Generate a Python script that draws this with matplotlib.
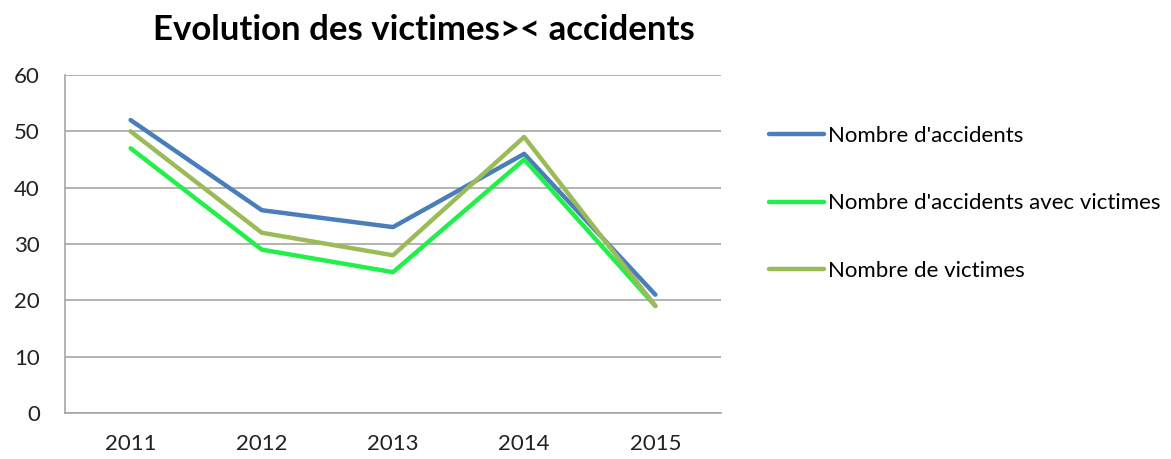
import matplotlib.pyplot as plt

years = ['2011', '2012', '2013', '2014', '2015']
accidents = [52, 36, 33, 46, 21]
accidents_victimes = [47, 29, 25, 45, 19]
victimes = [50, 32, 28, 49, 19]

plt.rcParams['font.family'] = ['Lato', 'DejaVu Sans']

fig = plt.figure(figsize=(11.71, 4.59), dpi=100)
ax = fig.add_axes([0.0555, 0.1002, 0.5602, 0.7364])

x = range(len(years))
ax.plot(x, accidents, color='#4A7EBB', lw=3.2, label="Nombre d'accidents", solid_capstyle='round')
ax.plot(x, accidents_victimes, color='#22F04A', lw=3.2, label="Nombre d'accidents avec victimes", solid_capstyle='round')
ax.plot(x, victimes, color='#9BBB59', lw=3.2, label='Nombre de victimes', solid_capstyle='round')

ax.set_xlim(-0.5, len(years) - 0.5)
ax.set_ylim(0, 60)
ax.set_yticks(range(0, 61, 10))
ax.set_xticks(list(x))
ax.set_xticklabels(years)
ax.tick_params(length=0, labelsize=16, colors='#222222')
ax.tick_params(axis='x', pad=15)
ax.tick_params(axis='y', pad=18)
ax.grid(axis='y', color='#A6A6A6', lw=1.2)
ax.set_axisbelow(True)
for s in ['top', 'right']:
    ax.spines[s].set_visible(False)
for s in ['left', 'bottom']:
    ax.spines[s].set_color('#A6A6A6')
    ax.spines[s].set_linewidth(1.2)

fig.text(0.362, 0.935, 'Evolution des victimes>< accidents', ha='center', va='center',
         fontsize=25, fontweight='bold')

fig.legend(loc='upper left', bbox_to_anchor=(0.640, 0.769), frameon=False,
           fontsize=16, handlelength=2.45, handletextpad=0.18, labelspacing=2.13)

fig.savefig('out.png', dpi=100)
